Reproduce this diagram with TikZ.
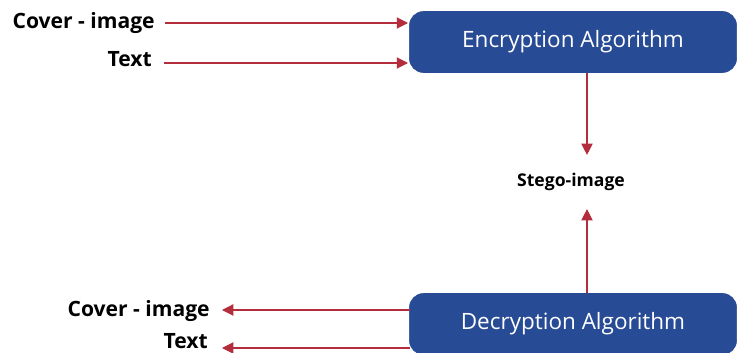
\documentclass[tikz,border=0pt]{standalone}
\usepackage{fontspec}
\setmainfont{Open Sans}
\usetikzlibrary{arrows.meta,positioning}
\definecolor{algblue}{RGB}{40,75,150}
\definecolor{arrred}{RGB}{180,45,60}

\begin{document}
\begin{tikzpicture}[x=0.025cm,y=-0.025cm,
  algbox/.style={draw=algblue,fill=algblue,rounded corners=0.35cm,text=white,
    minimum width=8.175cm,minimum height=1.525cm,font=\fontsize{16}{18}\selectfont},
  lbl/.style={font=\bfseries\fontsize{15}{17}\selectfont,inner sep=0pt},
  arr/.style={draw=arrred,thick,-{Triangle[length=8pt,width=8pt]}}
]
\useasboundingbox (0,0) rectangle (738,353);

% the algorithms
\node[algbox] (enc) at (573,42) {Encryption Algorithm};
\node[algbox] (dec) at (573,324) {Decryption Algorithm};
\node[lbl,font=\bfseries\fontsize{12.5}{15}\selectfont] (stego) at (571,182) {Stego-image};

% inputs
\node[lbl,anchor=east] (cov1) at (155,23) {Cover - image};
\node[lbl,anchor=east] (txt1) at (152,59) {Text};
% outputs
\node[lbl,anchor=east] (cov2) at (210,311) {Cover - image};
\node[lbl,anchor=east] (txt2) at (208,341) {Text};

\coordinate (e1) at (408,23);
\coordinate (e2) at (408,63);
\coordinate (d1) at (410,310);
\coordinate (d2) at (410,348);

% the edges
\draw[arr] (cov1.east) ++(10,0) -- (e1);
\draw[arr] (txt1.east) ++(12,4) -- (e2);
\draw[arr] (enc.south -| 587,0) -- ([yshift=0.45cm]stego.north -| 587,0);
\draw[arr] (dec.north -| 587,0) -- ([yshift=-0.45cm]stego.south -| 587,0);
\draw[arr] (d1) -- ([xshift=0.3cm]cov2.east |- d1);
\draw[arr] (d2) -- ([xshift=0.35cm]txt2.east |- d2);

\end{tikzpicture}
\end{document}
